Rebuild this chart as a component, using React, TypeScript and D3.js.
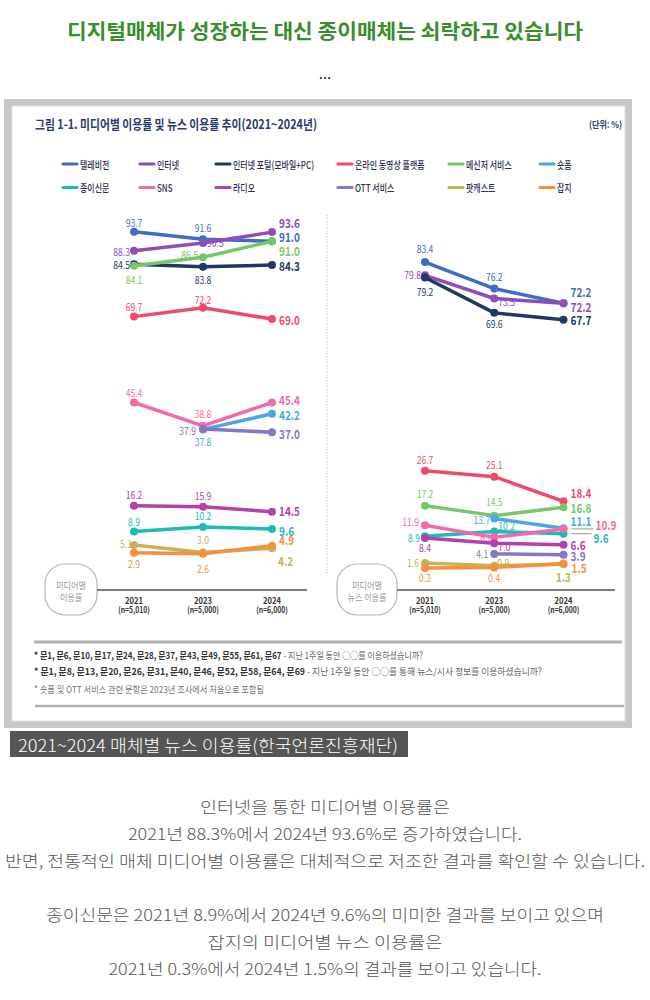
import React from 'react';
import * as d3 from 'd3';

const years = ['2021', '2023', '2024'];
const sampleSizes = ['(n=5,010)', '(n=5,000)', '(n=6,000)'];

const mediaNames = [
  '텔레비전', '인터넷', '인터넷 포털(모바일+PC)', '온라인 동영상 플랫폼', '메신저 서비스', '숏폼',
  '종이신문', 'SNS', '라디오', 'OTT 서비스', '팟캐스트', '잡지',
];

// 미디어별 이용률 (%)
const usageRate: (number | null)[][] = [
  [93.7, 91.6, 91.0],
  [88.3, 90.5, 93.6],
  [84.5, 83.8, 84.3],
  [69.7, 72.2, 69.0],
  [84.1, 86.5, 91.0],
  [null, 37.8, 42.2],
  [8.9, 10.2, 9.6],
  [45.4, 38.8, 45.4],
  [16.2, 15.9, 14.5],
  [null, 37.9, 37.0],
  [5.1, 3.0, 4.2],
  [2.9, 2.6, 4.9],
];

// 미디어별 뉴스 이용률 (%)
const newsRate: (number | null)[][] = [
  [83.4, 76.2, 72.2],
  [79.8, 73.5, 72.2],
  [79.2, 69.6, 67.7],
  [26.7, 25.1, 18.4],
  [17.2, 14.5, 16.8],
  [null, 13.7, 11.1],
  [8.9, 10.2, 9.6],
  [11.9, 8.6, 10.9],
  [8.4, 7.0, 6.6],
  [null, 4.1, 3.9],
  [1.6, 0.9, 1.3],
  [0.3, 0.4, 1.5],
];

const seriesColors = [
  '#3e6dc2', '#8e4eb8', '#203864', '#ee4b6a', '#76c66a', '#4aa7e0',
  '#1fbab4', '#f26aa9', '#b340ab', '#8577c6', '#c5b35b', '#f6903d',
];

// label offsets per point: [dx, dy, anchor]
type Pos = [number, number, 'm' | 's' | 'e'] | null;
const usageLabelPos: Pos[][] = [
  [[0, -9.5, 'm'], [0, -11, 'm'], [7, -5, 's']],
  [[-4, 1, 'e'], [4, 0, 's'], [7, -9.5, 's']],
  [[-4, 0, 'e'], [0, 13, 'm'], [7, 0, 's']],
  [[0, -10, 'm'], [0, -8.5, 'm'], [7, 0, 's']],
  [[0, 14, 'm'], [-5, -3, 'e'], [7, 9.5, 's']],
  [null, [0, 12, 'm'], [7, 1, 's']],
  [[0, -10, 'm'], [0, -11, 'm'], [7, 1, 's']],
  [[0, -10, 'm'], [0, -12.5, 'm'], [7, -3, 's']],
  [[0, -11, 'm'], [0, -11, 'm'], [7, -1, 's']],
  [null, [-7, 2, 'e'], [7, 1, 's']],
  [[-2, -1, 'e'], [0, -13, 'm'], [6, 12, 's']],
  [[0, 11, 'm'], [0, 14.5, 'm'], [7, -6, 's']],
];
const newsLabelPos: Pos[][] = [
  [[0, -13, 'm'], [0, -12, 'm'], [7, -12, 's']],
  [[-4, -1, 'e'], [4, 3, 's'], [7, 3, 's']],
  [[0, 14.5, 'm'], [0, 11, 'm'], [7, 0, 's']],
  [[0, -11.5, 'm'], [0, -11.5, 'm'], [7, -8.5, 's']],
  [[0, -12, 'm'], [0, -14, 'm'], [7, 0, 's']],
  [null, [-4, 1, 'e'], [7, -8, 's']],
  [[-5, 1, 'e'], [4, -6, 's'], [30, 4, 's']],
  [[-6, -3, 'e'], [-2, -1, 'e'], [32, -4, 's']],
  [[0, 10, 'm'], [4, 3, 's'], [7, 0, 's']],
  [null, [-6, 0, 'e'], [7, 1, 's']],
  [[-6, 0, 'e'], [3, -3, 's'], [0, 12, 'm']],
  [[0, 10, 'm'], [0, 10, 'm'], [8, 3.5, 's']],
];

const FONT = '"Noto Sans CJK KR", "Noto Sans", sans-serif';
const anchorOf = { m: 'middle', s: 'start', e: 'end' } as const;

function SText({ x, y, sx = 1, anchor = 'start', size, weight = 400, fill, children }: any) {
  return (
    <text
      transform={`translate(${x},${y}) scale(${sx},1)`}
      textAnchor={anchor}
      dominantBaseline="central"
      fontSize={size}
      fontWeight={weight}
      fill={fill}
      fontFamily={FONT}
    >
      {children}
    </text>
  );
}

type Pt = { year: string; v: number | null };

function Panel({ values, labelPos, x, y, box, axisX }: any) {
  const line = d3.line<Pt>()
    .defined(d => d.v != null)
    .x(d => x(d.year))
    .y(d => y(d.v as number));
  const rows: Pt[][] = values.map((vals: (number | null)[]) => vals.map((v, j) => ({ year: years[j], v })));
  const axisY = 590;
  return (
    <g>
      {/* baseline + category ticks */}
      <rect x={box[0]} y={564} width={box[1] - box[0]} height={51} rx={20} fill="#fff" stroke="#b5b5b5" strokeWidth={1.2} />
      {box[2].map((t: string, k: number) => (
        <SText key={k} x={(box[0] + box[1]) / 2} y={585.5 + k * 11.5} anchor="middle" size={9.5} sx={0.85} fill="#9a9a9a">{t}</SText>
      ))}
      <line x1={box[1]} x2={axisX} y1={axisY} y2={axisY} stroke="#555" strokeWidth={1.5} />
      {x.domain().map((yr: string, j: number) => (
        <g key={yr}>
          <SText x={x(yr)} y={599.5} anchor="middle" size={9} weight={700} sx={0.85} fill="#333">{yr}</SText>
          <SText x={x(yr)} y={609} anchor="middle" size={8.5} weight={700} sx={0.8} fill="#333">{sampleSizes[j]}</SText>
        </g>
      ))}
      {rows.map((pts, i) => (
        <g key={i}>
          <path d={line(pts) || ''} fill="none" stroke={seriesColors[i]} strokeWidth={3.5} strokeLinejoin="round" />
          {pts.filter(p => p.v != null).map(p => (
            <circle key={p.year} cx={x(p.year)} cy={y(p.v as number)} r={4} fill={seriesColors[i]} />
          ))}
        </g>
      ))}
      {rows.map((pts, i) =>
        pts.map((p, j) => {
          const pos = labelPos[i][j];
          if (p.v == null || !pos) return null;
          const px = x(p.year);
          const py = y(p.v);
          const last = j === pts.length - 1;
          return (
            <g key={`${i}-${j}`}>
              {last && pos[0] > 20 && (
                <line x1={px + 8} x2={px + pos[0] - 2} y1={py} y2={py} stroke="#999" strokeWidth={1} />
              )}
              <SText
                x={px + pos[0]}
                y={py + pos[1]}
                anchor={anchorOf[pos[2]]}
                size={last ? 12.5 : 10}
                weight={last ? 700 : 400}
                sx={last ? 0.8 : 0.86}
                fill={seriesColors[i]}
              >
                {p.v.toFixed(1)}
              </SText>
            </g>
          );
        })
      )}
    </g>
  );
}

const legendCols = [63, 140, 216, 338, 449, 540];
const legendRows = [164, 187.5];

const footnotes = [
  ['* 문1, 문6, 문10, 문17, 문24, 문28, 문37, 문43, 문49, 문55, 문61, 문67', ' - 지난 1주일 동안 ○○를 이용하셨습니까?'],
  ['* 문1, 문8, 문13, 문20, 문26, 문31, 문40, 문46, 문52, 문58, 문64, 문69', ' - 지난 1주일 동안 ○○를 통해 뉴스/시사 정보를 이용하셨습니까?'],
  ['', '* 숏폼 및 OTT 서비스 관련 문항은 2023년 조사에서 처음으로 포함됨'],
];
const footnoteLayout = [[655, 389], [670.5, 508], [689, 230]];

const bodyLines = [
  '인터넷을 통한 미디어별 이용률은',
  '2021년 88.3%에서 2024년 93.6%로 증가하였습니다.',
  '반면, 전통적인 매체 미디어별 이용률은 대체적으로 저조한 결과를 확인할 수 있습니다.',
  '',
  '종이신문은 2021년 8.9%에서 2024년 9.6%의 미미한 결과를 보이고 있으며',
  '잡지의 미디어별 뉴스 이용률은',
  '2021년 0.3%에서 2024년 1.5%의 결과를 보이고 있습니다.',
];
const bodyWidths = [250, 394, 640, 0, 558, 235, 433];

export default function App() {
  const xLeft = d3.scalePoint<string>().domain(years).range([134, 272]);
  const xRight = d3.scalePoint<string>().domain(years).range([425, 563.5]);
  const yLeft = d3.scaleLinear().domain([0, 100]).range([563, 209.5]);
  const yRight = d3.scaleLinear().domain([0, 100]).range([569, 201]);

  return (
    <div style={{ position: 'absolute', left: 0, top: 0 }}>
      <svg width={650} height={1000} style={{ display: 'block' }}>
        <rect width={650} height={1000} fill="#fff" />
        <text x={325} y={30} textAnchor="middle" dominantBaseline="central" fontFamily={FONT} fontSize={20} fontWeight={700}
          fill="#3b8c2f" textLength={516} lengthAdjust="spacingAndGlyphs">
          디지털매체가 성장하는 대신 종이매체는 쇠락하고 있습니다
        </text>
        <text x={325} y={72} textAnchor="middle" dominantBaseline="central" fontFamily={FONT} fontSize={15} fill="#222">...</text>

        {/* figure frame */}
        <rect x={4} y={99} width={628} height={629} fill="#c8c8c8" />
        <rect x={12} y={106} width={613} height={615} fill="#fff" stroke="#e0e0e0" strokeWidth={1} />

        <text x={35} y={123.5} dominantBaseline="central" fontFamily={FONT} fontSize={13} fontWeight={700} fill="#2a3a6a"
          textLength={282} lengthAdjust="spacingAndGlyphs">
          그림 1-1. 미디어별 이용률 및 뉴스 이용률 추이(2021~2024년)
        </text>
        <text x={589} y={123.5} dominantBaseline="central" fontFamily={FONT} fontSize={9.5} fontWeight={700} fill="#2a3a6a"
          textLength={33} lengthAdjust="spacingAndGlyphs">
          (단위: %)
        </text>

        {mediaNames.map((name, i) => {
          const lx = legendCols[i % 6];
          const ly = legendRows[Math.floor(i / 6)];
          return (
            <g key={name}>
              <line x1={lx} x2={lx + 14} y1={ly} y2={ly} stroke={seriesColors[i]} strokeWidth={3.2} strokeLinecap="round" />
              <SText x={lx + 17} y={ly} size={10.5} weight={500} sx={0.76} fill="#2d3050">{name}</SText>
            </g>
          );
        })}

        <line x1={327} x2={327} y1={215} y2={575} stroke="#c8c8c8" strokeWidth={1} strokeDasharray="1.5,1.5" />

        <Panel values={usageRate} labelPos={usageLabelPos} x={xLeft} y={yLeft} box={[45, 97, ['미디어별', '이용률']]} axisX={307} />
        <Panel values={newsRate} labelPos={newsLabelPos} x={xRight} y={yRight} box={[337, 397, ['미디어별', '뉴스 이용률']]} axisX={615} />

        <line x1={34} x2={622} y1={642} y2={642} stroke="#b0b0b0" strokeWidth={3} />
        {footnotes.map((f, i) => (
          <text key={i} x={34} y={footnoteLayout[i][0]} dominantBaseline="central" fontFamily={FONT} fontSize={9.5}
            textLength={footnoteLayout[i][1]} lengthAdjust="spacingAndGlyphs">
            {f[0] && <tspan fontWeight={700} fill="#333">{f[0]}</tspan>}
            <tspan fill={i === 2 ? '#777' : '#666'}>{f[1]}</tspan>
          </text>
        ))}
        <line x1={35} x2={624} y1={706} y2={706} stroke="#b0b0b0" strokeWidth={2.5} />

        <rect x={10} y={731} width={398} height={26} fill="#555" />
        <text x={18} y={744} dominantBaseline="central" fontFamily={FONT} fontSize={17} fontWeight={300} fill="#fff"
          textLength={380} lengthAdjust="spacingAndGlyphs">
          2021~2024 매체별 뉴스 이용률(한국언론진흥재단)
        </text>

        {bodyLines.map((t, i) =>
          t ? (
            <text key={i} x={325} y={806 + i * 27} textAnchor="middle" dominantBaseline="central" fontFamily={FONT}
              fontSize={16} fontWeight={300} fill="#555" textLength={bodyWidths[i]} lengthAdjust="spacingAndGlyphs">
              {t}
            </text>
          ) : null
        )}
      </svg>
    </div>
  );
}
